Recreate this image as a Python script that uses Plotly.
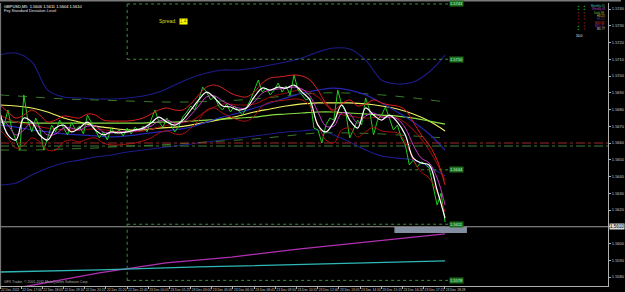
import plotly.graph_objects as go

# ---------------- data ----------------
symbol_title = "GBPUSD,M5  1.5606 1.5611 1.5604 1.5610"
indicator_title = "Fxy Standard Deviation Level"

# close line (one value per 4-px bar, 113 bars)
close_prices = [
    1.56767, 1.56707, 1.56797, 1.56678, 1.56618, 1.56558, 1.56887, 1.56737, 1.56666, 1.56749,
    1.56689, 1.56558, 1.56630, 1.56707, 1.56666, 1.56737, 1.56689, 1.56648, 1.56725, 1.56678,
    1.56701, 1.56654, 1.56767, 1.56719, 1.56678, 1.56630, 1.56666, 1.56618, 1.56689, 1.56654,
    1.56678, 1.56642, 1.56689, 1.56654, 1.56695, 1.56672, 1.56701, 1.56666, 1.56737, 1.56797,
    1.56725, 1.56695, 1.56749, 1.56707, 1.56666, 1.56701, 1.56755, 1.56785, 1.56821, 1.56797,
    1.56857, 1.56934, 1.56904, 1.56857, 1.56881, 1.56821, 1.56797, 1.56833, 1.56785, 1.56821,
    1.56797, 1.56767, 1.56809, 1.56857, 1.56916, 1.56976, 1.56904, 1.56928, 1.56887, 1.56916,
    1.56958, 1.56904, 1.56940, 1.56887, 1.57006, 1.56916, 1.56887, 1.56857, 1.56869, 1.56689,
    1.56678, 1.56600, 1.56707, 1.56749, 1.56737, 1.56916, 1.56827, 1.56785, 1.56630, 1.56689,
    1.56737, 1.56707, 1.56869, 1.56797, 1.56648, 1.56737, 1.56767, 1.56815, 1.56749, 1.56678,
    1.56707, 1.56630, 1.56588, 1.56469, 1.56498, 1.56457, 1.56487, 1.56475, 1.56451, 1.56349,
    1.56230, 1.56301, 1.56128,
]

# short smoothed lines (every 2 bars)
white_ma = [
    1.56779, 1.56648, 1.56618, 1.56749, 1.56725, 1.56648, 1.56618, 1.56689, 1.56707, 1.56666,
    1.56689, 1.56725, 1.56678, 1.56648, 1.56666, 1.56660, 1.56666, 1.56678, 1.56689, 1.56719,
    1.56755, 1.56725, 1.56707, 1.56737, 1.56797, 1.56857, 1.56904, 1.56869, 1.56821, 1.56815,
    1.56797, 1.56809, 1.56875, 1.56928, 1.56916, 1.56934, 1.56928, 1.56946, 1.56904, 1.56857,
    1.56707, 1.56666, 1.56725, 1.56827, 1.56737, 1.56689, 1.56809, 1.56767, 1.56737, 1.56767,
    1.56725, 1.56648, 1.56510, 1.56481, 1.56469, 1.56319, 1.56152,
]
magenta_ma = [
    1.56749, 1.56707, 1.56648, 1.56678, 1.56725, 1.56689, 1.56648, 1.56654, 1.56689, 1.56689,
    1.56678, 1.56701, 1.56701, 1.56666, 1.56660, 1.56666, 1.56666, 1.56672, 1.56684, 1.56701,
    1.56731, 1.56737, 1.56719, 1.56725, 1.56767, 1.56821, 1.56875, 1.56881, 1.56851, 1.56827,
    1.56809, 1.56809, 1.56845, 1.56898, 1.56916, 1.56922, 1.56928, 1.56934, 1.56922, 1.56881,
    1.56785, 1.56701, 1.56701, 1.56779, 1.56773, 1.56719, 1.56761, 1.56779, 1.56755, 1.56755,
    1.56743, 1.56689, 1.56588, 1.56510, 1.56481, 1.56391, 1.56230,
]
red_upper = [
    1.56827, 1.56785, 1.56749, 1.56767, 1.56797, 1.56767, 1.56725, 1.56737, 1.56761, 1.56755,
    1.56749, 1.56773, 1.56767, 1.56737, 1.56731, 1.56731, 1.56731, 1.56737, 1.56749, 1.56773,
    1.56797, 1.56809, 1.56797, 1.56797, 1.56833, 1.56887, 1.56934, 1.56946, 1.56928, 1.56898,
    1.56881, 1.56875, 1.56904, 1.56958, 1.56988, 1.56994, 1.57000, 1.57006, 1.57000, 1.56976,
    1.56916, 1.56839, 1.56797, 1.56833, 1.56857, 1.56821, 1.56833, 1.56857, 1.56839, 1.56827,
    1.56821, 1.56797, 1.56725, 1.56648, 1.56588, 1.56498, 1.56349,
]
red_lower = [
    1.56678, 1.56630, 1.56570, 1.56588, 1.56630, 1.56606, 1.56558, 1.56558, 1.56606, 1.56618,
    1.56606, 1.56624, 1.56630, 1.56600, 1.56588, 1.56588, 1.56594, 1.56600, 1.56612, 1.56630,
    1.56660, 1.56672, 1.56654, 1.56654, 1.56689, 1.56737, 1.56797, 1.56809, 1.56779, 1.56755,
    1.56737, 1.56731, 1.56761, 1.56821, 1.56845, 1.56851, 1.56857, 1.56863, 1.56857, 1.56821,
    1.56713, 1.56618, 1.56600, 1.56678, 1.56689, 1.56636, 1.56666, 1.56695, 1.56672, 1.56666,
    1.56660, 1.56606, 1.56498, 1.56427, 1.56391, 1.56307, 1.56188,
]

# slower lines (every 4 bars)
darkred_ma = [
    1.56767, 1.56725, 1.56707, 1.56689, 1.56678, 1.56678, 1.56684, 1.56672, 1.56666, 1.56672,
    1.56695, 1.56713, 1.56731, 1.56791, 1.56833, 1.56827, 1.56833, 1.56875, 1.56898, 1.56916,
    1.56875, 1.56785, 1.56761, 1.56749, 1.56755, 1.56749, 1.56678, 1.56558, 1.56379,
]
yellow_ma = [
    1.56827, 1.56821, 1.56809, 1.56785, 1.56749, 1.56725, 1.56701, 1.56689, 1.56678, 1.56678,
    1.56689, 1.56695, 1.56707, 1.56725, 1.56743, 1.56761, 1.56785, 1.56803, 1.56821, 1.56833,
    1.56839, 1.56839, 1.56839, 1.56833, 1.56821, 1.56803, 1.56773, 1.56731, 1.56672,
]
lime_ma = [
    1.56725, 1.56725, 1.56719, 1.56719, 1.56719, 1.56719, 1.56719, 1.56719, 1.56719, 1.56719,
    1.56725, 1.56725, 1.56731, 1.56737, 1.56743, 1.56749, 1.56755, 1.56767, 1.56773, 1.56779,
    1.56785, 1.56785, 1.56779, 1.56773, 1.56767, 1.56761, 1.56749, 1.56731, 1.56713,
]
blue_ma = [
    1.56707, 1.56695, 1.56678, 1.56666, 1.56654, 1.56648, 1.56642, 1.56636, 1.56642, 1.56654,
    1.56666, 1.56678, 1.56695, 1.56725, 1.56755, 1.56779, 1.56809, 1.56839, 1.56869, 1.56898,
    1.56916, 1.56928, 1.56916, 1.56887, 1.56839, 1.56785, 1.56725, 1.56654, 1.56558,
]
band_upper = [
    1.57125, 1.57137, 1.57084, 1.56916, 1.56875, 1.56869, 1.56863, 1.56863, 1.56869, 1.56881,
    1.56904, 1.56946, 1.56988, 1.57018, 1.57036, 1.57036, 1.57048, 1.57066, 1.57084, 1.57107,
    1.57143, 1.57167, 1.57161, 1.57095, 1.56976, 1.56952, 1.56964, 1.57024, 1.57125,
]
band_lower = [
    1.56349, 1.56361, 1.56409, 1.56451, 1.56481, 1.56498, 1.56516, 1.56528, 1.56546, 1.56558,
    1.56570, 1.56582, 1.56594, 1.56606, 1.56618, 1.56630, 1.56642, 1.56654, 1.56666, 1.56672,
    1.56678, 1.56648, 1.56606, 1.56558, 1.56522, 1.56510, 1.56498, 1.56457, 1.56403,
]
# envelopes (every 8 bars)
env_upper = [1.56887, 1.56875, 1.56863, 1.56857, 1.56851, 1.56845, 1.56845, 1.56851,
             1.56863, 1.56881, 1.56898, 1.56898, 1.56887, 1.56869, 1.56845]
env_lower = [1.56558, 1.56558, 1.56564, 1.56570, 1.56582, 1.56588, 1.56600, 1.56612,
             1.56624, 1.56642, 1.56660, 1.56660, 1.56654, 1.56642, 1.56630]

# long trend lines at bottom
purple_bars = [0, 25, 41.75, 58.25, 75, 112]
purple_vals = [1.55716, 1.55824, 1.55884, 1.55919, 1.55967, 1.56057]
cyan_bars = [0, 25, 50, 80, 112]
cyan_vals = [1.55830, 1.55842, 1.55860, 1.55878, 1.55896]

# horizontal levels
sd_levels = [1.5743, 1.5710, 1.5644, 1.56115, 1.5578]
sd_level_labels = ["1.5743", "1.5710", "1.5644", "1.5611", "1.5578"]
pivot_red = 1.5660
pivot_green = 1.56582
current_price = 1.5610
box_start_bar = 32
last_bar = 112

price_ticks = [1.5580 + 0.001 * k for k in range(17)]
time_labels = ["22 Dec 2011", "22 Dec 17:00", "22 Dec 18:05", "22 Dec 19:10", "22 Dec 20:15",
               "22 Dec 21:20", "22 Dec 22:45", "23 Dec 00:01", "23 Dec 01:25", "23 Dec 03:00",
               "23 Dec 05:05", "23 Dec 06:10", "23 Dec 08:45", "23 Dec 09:50", "23 Dec 10:55",
               "23 Dec 12:00", "23 Dec 13:05", "23 Dec 14:10", "23 Dec 15:15", "23 Dec 16:20",
               "23 Dec 17:25", "23 Dec 18:28"]

tf_names = ["Monthly 15", "Weekly 43", "Daily 89", "H4 23", "H1 55",
            "M30 68", "M15 21", "M5 77"]
tf_colors = ["#40c8c8", "#c040c0", "#80c040", "#c8c840", "#4848c0", "#c84040", "#9040c0", "#d0d0d0"]
sig_col1 = ["up", "up", "dn", "dn", "dn", "dn", "up", "up"]
sig_col2 = ["up", "up", "dn", "dn", "dn", "dn", "dn", "dn"]

# ---------------- figure ----------------
PW, PH = 612.0, 283.0  # plot area px
XMAX = 153.0           # visible bars (4 px each)


def xp(px):
    return px / PW


def yp(py):
    return (286.0 - py) / PH


bars1 = list(range(len(close_prices)))
bars2 = [2 * i for i in range(len(white_ma))]
bars4 = [4 * i for i in range(len(yellow_ma))]
bars8 = [8 * i for i in range(len(env_upper))]

fig = go.Figure()


def line(x, y, color, width=1.0, dash="solid", shape="linear"):
    fig.add_trace(go.Scatter(x=x, y=y, mode="lines",
                             line=dict(color=color, width=width, dash=dash, shape=shape,
                                       smoothing=1.0 if shape == "spline" else None),
                             hoverinfo="skip"))


line(bars4, band_upper, "#1c1c8a", 1.1, shape="spline")
line(bars4, band_lower, "#1c1c8a", 1.1, shape="spline")
line(bars8, env_upper, "#3a7a2a", 1.0, dash="dash", shape="spline")
line(bars8, env_lower, "#3a7a2a", 1.0, dash="dash", shape="spline")
line(purple_bars, purple_vals, "#b030b0", 1.3)
line(cyan_bars, cyan_vals, "#30b8b8", 1.3)
line(bars4, yellow_ma, "#f0f060", 1.2, shape="spline")
line(bars4, lime_ma, "#88dd44", 1.2, shape="spline")
line(bars4, blue_ma, "#2525b0", 1.2, shape="spline")
line(bars4, darkred_ma, "#8b0a0a", 1.1, shape="spline")
line(bars1, close_prices, "#22cc22", 1.0)
line(bars2, red_upper, "#e02020", 1.0, shape="spline")
line(bars2, red_lower, "#b01010", 1.0, shape="spline")
line(bars2, magenta_ma, "#c838c8", 1.0, shape="spline")
line(bars2, white_ma, "#ffffff", 1.2, shape="spline")

shapes = []
shapes.append(dict(type="line", xref="x", yref="y", x0=0, x1=XMAX, y0=pivot_red, y1=pivot_red,
                   line=dict(color="#a02828", width=1, dash="dashdot")))
shapes.append(dict(type="line", xref="x", yref="y", x0=0, x1=XMAX, y0=pivot_green, y1=pivot_green,
                   line=dict(color="#3e7e3e", width=1, dash="dashdot")))
shapes.append(dict(type="line", xref="x", yref="y", x0=0, x1=XMAX, y0=current_price, y1=current_price,
                   line=dict(color="#9a9a9a", width=1)))
for lv in sd_levels:
    shapes.append(dict(type="line", xref="x", yref="y", x0=box_start_bar, x1=last_bar + 1, y0=lv, y1=lv,
                       line=dict(color="#3c8c3c", width=1, dash="dot")))
shapes.append(dict(type="line", xref="x", yref="y", x0=box_start_bar, x1=box_start_bar,
                   y0=sd_levels[0], y1=sd_levels[1], line=dict(color="#3c8c3c", width=1, dash="dot")))
shapes.append(dict(type="line", xref="x", yref="y", x0=box_start_bar, x1=box_start_bar,
                   y0=sd_levels[2], y1=sd_levels[4] - 0.0002, line=dict(color="#3c8c3c", width=1, dash="dot")))
shapes.append(dict(type="rect", xref="x", yref="y", x0=99.25, x1=117.5, y0=1.56063, y1=1.56099,
                   fillcolor="#9aa8bc", line=dict(width=0), opacity=0.85))
shapes.append(dict(type="rect", xref="paper", yref="paper", x0=0, x1=625 / PW, y0=yp(1.6), y1=yp(0),
                   fillcolor="#7a7a7a", line=dict(width=0)))
shapes.append(dict(type="line", xref="paper", yref="paper", x0=0.001, x1=0.001, y0=0, y1=1,
                   line=dict(color="#808080", width=1)))

ann = []
for lv, lab in zip(sd_levels, sd_level_labels):
    ann.append(dict(x=last_bar + 1, y=lv, xref="x", yref="y", text=lab, showarrow=False,
                    xanchor="left", yanchor="middle", bgcolor="#1e6e1e", borderpad=0,
                    font=dict(size=4, color="#c8ffc8", family="Liberation Sans")))
ann.append(dict(x=xp(613), y=current_price, xref="paper", yref="y", text="1.5610", showarrow=False,
                xanchor="left", yanchor="middle", bgcolor="#d8d8d8", borderpad=0,
                font=dict(size=4.5, color="#000000", family="Liberation Sans")))
ann.append(dict(x=xp(2), y=yp(2), xref="paper", yref="paper", text=symbol_title, showarrow=False,
                xanchor="left", yanchor="top", font=dict(size=4, color="#ffffff", family="Liberation Sans")))
ann.append(dict(x=xp(2), y=yp(6.5), xref="paper", yref="paper", text=indicator_title, showarrow=False,
                xanchor="left", yanchor="top", font=dict(size=4, color="#e0e0e0", family="Liberation Sans")))
ann.append(dict(x=xp(158), y=yp(21), xref="paper", yref="paper", text="Spread:", showarrow=False,
                xanchor="left", yanchor="middle", font=dict(size=5, color="#d8d820", family="Liberation Sans")))
ann.append(dict(x=xp(180), y=yp(21.5), xref="paper", yref="paper", text="1.4", showarrow=False,
                xanchor="left", yanchor="middle", bgcolor="#ffff00", borderpad=0,
                font=dict(size=4.5, color="#606000", family="Liberation Sans")))
ann.append(dict(x=xp(2), y=yp(282), xref="paper", yref="paper",
                text="GFX Trader, © 2001-2011 MetaQuotes Software Corp.", showarrow=False,
                xanchor="left", yanchor="middle", font=dict(size=3.5, color="#b0b0b0", family="Liberation Sans")))
tf_rows = [6, 9.3, 12.6, 16, 19.3, 22.6, 26, 29.3]
for r, name, col, s1, s2 in zip(tf_rows, tf_names, tf_colors, sig_col1, sig_col2):
    ann.append(dict(x=xp(611), y=yp(r), xref="paper", yref="paper", text=name, showarrow=False,
                    xanchor="right", yanchor="middle", font=dict(size=2.8, color=col, family="Liberation Sans")))
    for cx, s in ((582.5, s1), (588.5, s2)):
        ann.append(dict(x=xp(cx), y=yp(r), xref="paper", yref="paper",
                        text="▲" if s == "up" else "▼", showarrow=False, xanchor="center", yanchor="middle",
                        font=dict(size=2.8, color="#22aa22" if s == "up" else "#aa2222")))
ann.append(dict(x=xp(583), y=yp(35.5), xref="paper", yref="paper", text="10.0", showarrow=False,
                xanchor="center", yanchor="middle", font=dict(size=3.3, color="#ffffff", family="Liberation Sans")))

fig.update_layout(
    width=625, height=292,
    margin=dict(l=0, r=13, t=3, b=6, pad=0),
    paper_bgcolor="#000000", plot_bgcolor="#000000",
    showlegend=False, shapes=shapes, annotations=ann,
    xaxis=dict(range=[0, XMAX], showgrid=False, zeroline=False, showline=True, linecolor="#b0b0b0",
               linewidth=1, ticks="outside", ticklen=2, tickcolor="#b0b0b0",
               tickvals=[i * 5.33 for i in range(len(time_labels))], ticktext=time_labels,
               ticklabelposition="outside right", tickangle=0,
               tickfont=dict(size=3.3, color="#c8c8c8", family="Liberation Sans")),
    yaxis=dict(range=[1.557463, 1.574358], side="right", showgrid=False, zeroline=False, showline=True,
               linecolor="#b0b0b0", linewidth=1, ticks="outside", ticklen=2, tickcolor="#b0b0b0",
               tickvals=price_ticks,
               ticktext=["" if abs(v - current_price) < 1e-6 else "%.4f" % v for v in price_ticks],
               tickfont=dict(size=4, color="#c8c8c8", family="Liberation Sans")),
)

fig.write_html("out.html")
